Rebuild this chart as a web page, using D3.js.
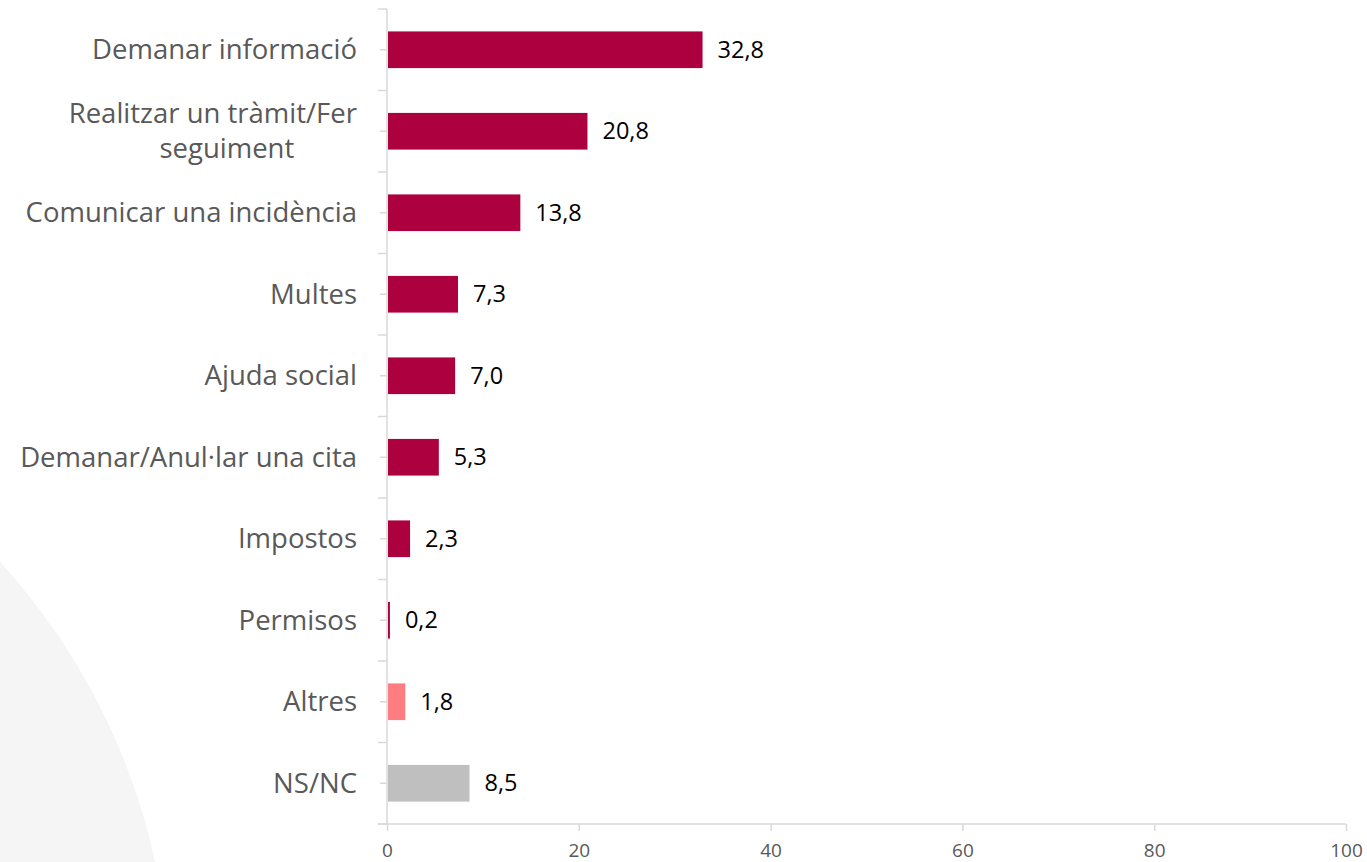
<!DOCTYPE html>
<html>
<head>
<meta charset="utf-8">
<script src="https://cdn.jsdelivr.net/npm/d3@7"></script>
<style>
  html, body { margin: 0; padding: 0; background: #ffffff; }
  svg { display: block; font-family: "Open Sans", sans-serif; }
</style>
</head>
<body>
<svg id="chart" width="1367" height="862"></svg>
<script>
// Motius de contacte (%)
const categories = [
  "Demanar informació",
  "Realitzar un tràmit/Fer seguiment",
  "Comunicar una incidència",
  "Multes",
  "Ajuda social",
  "Demanar/Anul·lar una cita",
  "Impostos",
  "Permisos",
  "Altres",
  "NS/NC"
];
const values = [32.8, 20.8, 13.8, 7.3, 7.0, 5.3, 2.3, 0.2, 1.8, 8.5];
const valueLabels = ["32,8", "20,8", "13,8", "7,3", "7,0", "5,3", "2,3", "0,2", "1,8", "8,5"];
const xTicks = [0, 20, 40, 60, 80, 100];
const barColors = ["#ad003f", "#ad003f", "#ad003f", "#ad003f", "#ad003f", "#ad003f", "#ad003f", "#ad003f", "#ff7c80", "#bfbfbf"];

(function () {
const svg = d3.select("#chart");
const plotLeft = 387, plotRight = 1346, plotTop = 9, plotBottom = 824;
const labelSize = 27.5;

// decorative background disc
svg.append("circle")
  .attr("cx", -480).attr("cy", 1000).attr("r", 650)
  .attr("fill", "#f5f5f5");

const x = d3.scaleLinear().domain([0, 100]).range([plotLeft, plotRight]);
const y = d3.scaleBand().domain(categories).range([plotTop, plotBottom]).paddingInner(0.55).paddingOuter(0.275);
const yb = d3.scaleBand().domain(categories).range([plotTop, plotBottom]);

// bars
svg.append("g").selectAll("rect")
  .data(values)
  .join("rect")
  .attr("x", x(0) + 1)
  .attr("y", (d, i) => y(categories[i]))
  .attr("width", d => Math.max(1, x(d) - x(0)))
  .attr("height", y.bandwidth())
  .attr("fill", (d, i) => barColors[i]);

// vertical category axis
const axisColor = "#d9d9d9";
const gy = svg.append("g");
gy.append("line").attr("x1", plotLeft).attr("x2", plotLeft).attr("y1", plotTop).attr("y2", plotBottom)
  .attr("stroke", axisColor).attr("stroke-width", 1.5);
const boundaries = categories.map(c => yb(c)).concat([plotBottom]);
gy.selectAll("line.b").data(boundaries).join("line").attr("class", "b")
  .attr("x1", plotLeft - 9).attr("x2", plotLeft).attr("y1", d => d).attr("y2", d => d)
  .attr("stroke", axisColor).attr("stroke-width", 1.5);
gy.selectAll("line.c").data(categories).join("line").attr("class", "c")
  .attr("x1", plotLeft - 7).attr("x2", plotLeft).attr("y1", d => yb(d) + yb.bandwidth() / 2).attr("y2", d => yb(d) + yb.bandwidth() / 2)
  .attr("stroke", axisColor).attr("stroke-width", 1.5);

// category labels
const labelX = 357;
categories.forEach((c, i) => {
  const cy = yb(c) + yb.bandwidth() / 2;
  if (c === "Realitzar un tràmit/Fer seguiment") {
    const t1 = svg.append("text").attr("x", labelX).attr("y", cy - 17.5).attr("dy", "0.35em")
      .attr("text-anchor", "end").attr("fill", "#595959").attr("font-size", labelSize).text("Realitzar un tràmit/Fer");
    const w1 = t1.node().getComputedTextLength();
    svg.append("text").attr("x", labelX - w1 / 2 + 14).attr("y", cy + 17).attr("dy", "0.35em")
      .attr("text-anchor", "middle").attr("fill", "#595959").attr("font-size", labelSize).text("seguiment");
  } else {
    svg.append("text").attr("x", labelX).attr("y", cy).attr("dy", "0.35em")
      .attr("text-anchor", "end").attr("fill", "#595959").attr("font-size", labelSize).text(c);
  }
});

// value labels
svg.append("g").selectAll("text")
  .data(values)
  .join("text")
  .attr("x", d => x(d) + 16)
  .attr("y", (d, i) => yb(categories[i]) + yb.bandwidth() / 2)
  .attr("dy", "0.35em")
  .attr("fill", "#000000")
  .attr("font-size", 23.5)
  .text((d, i) => valueLabels[i]);

// horizontal value axis
const gx = svg.append("g").attr("transform", `translate(0,${plotBottom})`)
  .call(d3.axisBottom(x).tickValues(xTicks).tickSize(7).tickPadding(13).tickSizeOuter(0));
gx.select(".domain").attr("stroke", axisColor).attr("stroke-width", 1.5)
  .attr("d", `M${plotLeft - 9},0H${plotRight}`);
gx.selectAll(".tick line").attr("stroke", axisColor).attr("stroke-width", 1.5);
gx.selectAll(".tick text").attr("fill", "#595959").attr("font-size", 19)
  .attr("font-family", "'Open Sans', sans-serif");
})();
</script>
</body>
</html>
